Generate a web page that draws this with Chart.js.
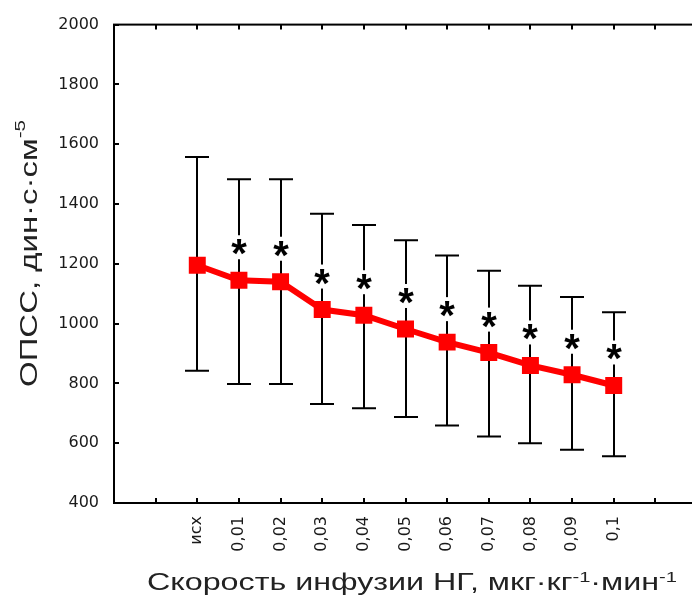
<!DOCTYPE html>
<html>
<head>
<meta charset="utf-8">
<script src="https://cdn.jsdelivr.net/npm/chart.js@4.4.0/dist/chart.umd.min.js"></script>
<style>
  html, body { margin: 0; padding: 0; overflow: hidden; background: #fff; }
  #wrap { width: 710px; height: 606px; }
  #myChart { width: 710px; height: 606px; }
</style>
</head>
<body>
<div id="wrap"><canvas id="myChart" width="710" height="606"></canvas></div>
<script>
// dose steps, the axis keeps two empty slots on each side
const doses = ['', '', 'исх', '0,01', '0,02', '0,03', '0,04', '0,05', '0,06', '0,07', '0,08', '0,09', '0,1', '', ''];
const meanValues = [null, null, 1195, 1145, 1140, 1047, 1028, 982, 938, 903, 860, 829, 793, null, null];
const upperValues = [null, null, 1557, 1483, 1483, 1367, 1330, 1279, 1228, 1177, 1127, 1089, 1038, null, null];
const lowerValues = [null, null, 842, 798, 798, 731, 717, 688, 659, 622, 600, 578, 556, null, null];
const significant = [false, false, false, true, true, true, true, true, true, true, true, true, true, false, false];
const yMin = 400, yMax = 2000, yStep = 200;

const xTitle = [{ t: 'Скорость инфузии НГ, мкг·кг' }, { t: '-1', sup: true }, { t: '·мин' }, { t: '-1', sup: true }];
const yTitle = [{ t: 'ОПСС, дин·с·см' }, { t: '-5', sup: true }];

// draws text pieces with superscripts, stretched to a given length
function drawRich(ctx, parts, len, rise) {
	const base = '24px "Liberation Sans"', small = '15px "Liberation Sans"';
	let w = 0;
	parts.forEach(p => { ctx.font = p.sup ? small : base; w += ctx.measureText(p.t).width; });
	ctx.scale(len / w, 1);
	let x = 0;
	parts.forEach(p => {
		ctx.font = p.sup ? small : base;
		ctx.fillText(p.t, x, p.sup ? -rise : 0);
		x += ctx.measureText(p.t).width;
	});
}

const framePlugin = {
	id: 'frame',
	afterDraw(chart) {
		const { ctx, chartArea: a, scales: { x, y } } = chart;
		ctx.save();
		ctx.strokeStyle = '#000';
		ctx.lineWidth = 2;
		ctx.strokeRect(a.left, a.top, a.right - a.left, a.bottom - a.top);
		ctx.beginPath();
		for (let v = yMin; v <= yMax; v += yStep) {
			const py = Math.round(y.getPixelForValue(v));
			ctx.moveTo(a.left, py); ctx.lineTo(a.left + 5, py);
			ctx.moveTo(a.right, py); ctx.lineTo(a.right - 5, py);
		}
		for (let i = 0; i < doses.length; i++) {
			const px = Math.round(x.getPixelForValue(i));
			ctx.moveTo(px, a.top); ctx.lineTo(px, a.top + 5);
			ctx.moveTo(px, a.bottom); ctx.lineTo(px, a.bottom - 5);
		}
		ctx.stroke();
		ctx.restore();
	}
};

const errorBarPlugin = {
	id: 'errorBars',
	beforeDatasetsDraw(chart) {
		const { ctx, scales: { x, y } } = chart;
		ctx.save();
		ctx.strokeStyle = '#000';
		ctx.lineWidth = 2;
		ctx.beginPath();
		upperValues.forEach((up, i) => {
			if (up == null) return;
			const px = Math.round(x.getPixelForValue(i));
			const yu = y.getPixelForValue(up), yl = y.getPixelForValue(lowerValues[i]);
			ctx.moveTo(px, yu); ctx.lineTo(px, yl);
			ctx.moveTo(px - 12, yu); ctx.lineTo(px + 12, yu);
			ctx.moveTo(px - 12, yl); ctx.lineTo(px + 12, yl);
		});
		ctx.stroke();
		ctx.restore();
	}
};

const starPlugin = {
	id: 'stars',
	afterDatasetsDraw(chart) {
		const { ctx, scales: { x, y } } = chart;
		ctx.save();
		ctx.font = 'bold 40px "Liberation Sans"';
		ctx.textAlign = 'center';
		const m = ctx.measureText('*');
		const shift = (m.actualBoundingBoxAscent - m.actualBoundingBoxDescent) / 2;
		significant.forEach((s, i) => {
			if (!s) return;
			const px = Math.round(x.getPixelForValue(i));
			const py = y.getPixelForValue(meanValues[i]) - 33;
			ctx.fillStyle = '#fff';
			ctx.fillRect(px - 3, py - 12, 6, 24);
			ctx.fillStyle = '#000';
			ctx.fillText('*', px, py + shift);
		});
		ctx.restore();
	}
};

const titlePlugin = {
	id: 'titles',
	afterDraw(chart) {
		const ctx = chart.ctx;
		ctx.save();
		ctx.fillStyle = '#222';
		ctx.translate(147, 590);
		drawRich(ctx, xTitle, 530, 8);
		ctx.restore();

		ctx.save();
		ctx.fillStyle = '#222';
		ctx.translate(37, 387);
		ctx.rotate(-Math.PI / 2);
		drawRich(ctx, yTitle, 267, 12);
		ctx.restore();
	}
};

const myChart = document.getElementById('myChart').getContext('2d');
const lineChart = new Chart(myChart, {
	type: 'line',
	data: {
		labels: doses,
		datasets: [{
			data: meanValues,
			borderColor: '#ff0000',
			backgroundColor: '#ff0000',
			borderWidth: 6,
			pointStyle: 'rect',
			pointRadius: 12,
			pointHoverRadius: 12,
			pointBorderWidth: 0,
			tension: 0
		}]
	},
	options: {
		responsive: false,
		maintainAspectRatio: false,
		animation: false,
		events: [],
		layout: { padding: { top: 22, right: 13, bottom: 0, left: 0 } },
		plugins: { legend: { display: false }, tooltip: { enabled: false } },
		scales: {
			x: {
				offset: false,
				grid: { display: false, drawTicks: false },
				border: { display: false },
				ticks: {
					autoSkip: false, maxRotation: 90, minRotation: 90, padding: 13,
					color: '#1a1a1a', font: { family: 'DejaVu Sans', size: 16 }
				},
				afterFit: s => { s.height = 103; s.paddingLeft = 0; s.paddingRight = 0; }
			},
			y: {
				min: yMin, max: yMax,
				grid: { display: false, drawTicks: false },
				border: { display: false },
				ticks: {
					stepSize: yStep, padding: 15,
					color: '#1a1a1a', font: { family: 'DejaVu Sans', size: 16 },
					callback: v => String(v)
				},
				afterFit: s => { s.width = 114; }
			}
		}
	},
	plugins: [errorBarPlugin, starPlugin, framePlugin, titlePlugin]
});
</script>
</body>
</html>
